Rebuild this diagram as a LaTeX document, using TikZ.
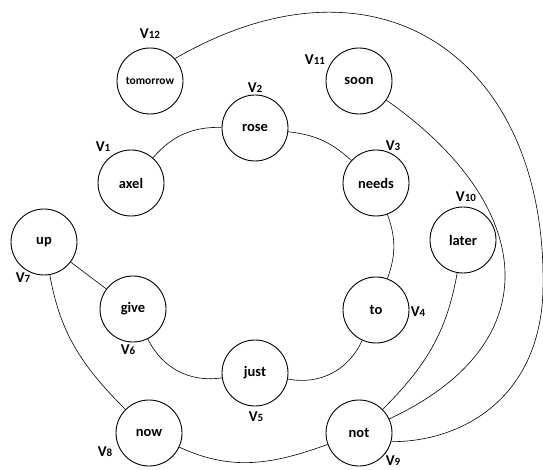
\documentclass[tikz,border=0pt]{standalone}
\usepackage{fontspec}
\setmainfont{Carlito}
\newcommand{\vtag}[1]{V{\fontsize{11}{11}\selectfont #1}}

\begin{document}
\begin{tikzpicture}[x=1pt, y=1pt,
	word/.style={circle, draw, line width=0.9pt, minimum size=66pt, inner sep=0pt, font=\bfseries\fontsize{14.5}{14.5}\selectfont},
	tag/.style={inner sep=0pt, font=\bfseries\fontsize{15}{15}\selectfont},
	link/.style={line width=0.6pt}]
	\useasboundingbox (0,0) rectangle (543,-470);
	\node [word] (v1) at (131,-183) {axel};
	\node [word] (v2) at (255,-128) {rose};
	\node [word] (v3) at (376,-183) {needs};
	\node [word] (v4) at (376,-310) {to};
	\node [word] (v5) at (255,-373) {just};
	\node [word] (v6) at (133,-309) {give};
	\node [word] (v7) at (44,-242) {up};
	\node [word] (v8) at (149,-433) {now};
	\node [word] (v9) at (359,-433) {not};
	\node [word] (v10) at (463,-240) {later};
	\node [word] (v11) at (359,-81) {soon};
	\node [word, font=\bfseries\fontsize{11.5}{11.5}\selectfont] (v12) at (150,-81) {tomorrow};
	\node [tag] (l1) at (103,-147) {\vtag{1}};
	\node [tag] (l2) at (255,-88) {\vtag{2}};
	\node [tag] (l3) at (393,-146) {\vtag{3}};
	\node [tag] (l4) at (418,-312) {\vtag{4}};
	\node [tag] (l5) at (256,-417) {\vtag{5}};
	\node [tag] (l6) at (128,-350) {\vtag{6}};
	\node [tag] (l7) at (23,-278) {\vtag{7}};
	\node [tag] (l8) at (105,-452) {\vtag{8}};
	\node [tag] (l9) at (393,-461) {\vtag{9}};
	\node [tag] (l10) at (466,-197) {\vtag{10}};
	\node [tag] (l11) at (315,-60) {\vtag{11}};
	\node [tag] (l12) at (150,-34) {\vtag{12}};
	\draw [link] (v1) to [bend left=25] (v2);
	\draw [link] (v2) to [bend left=18] (v3);
	\draw [link] (v3) to [bend left=20] (v4);
	\draw [link] (v4) to [bend left=38] (v5);
	\draw [link] (v5) to [bend left=36] (v6);
	\draw [link] (v6) -- (v7);
	\draw [link] (v7) to [out=-80, in=135] (v8);
	\draw [link] (v8) to [out=-25, in=-160] (v9);
	\draw [link] (v9) to [out=45, in=-100] (v10);
	\draw [link] (v9) to [out=25, in=-35, looseness=1.45] (v11);
	\draw [link] (v9.-15) .. controls (460,-442) and (540,-400) .. (543,-290) .. controls (548,-60) and (380,60) .. (v12.42);
\end{tikzpicture}
\end{document}
